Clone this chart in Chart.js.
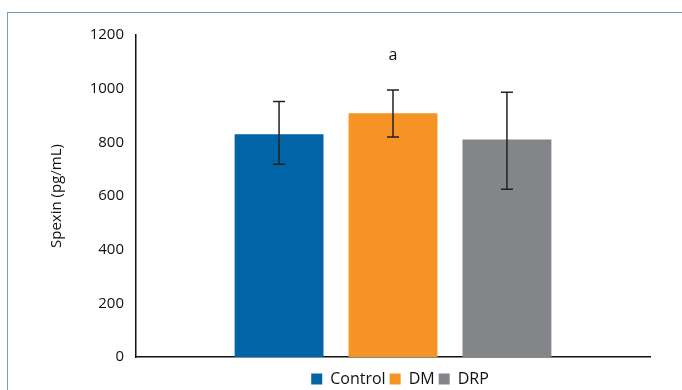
<!DOCTYPE html>
<html>
<head>
<meta charset="utf-8">
<script src="https://cdn.jsdelivr.net/npm/chart.js@4"></script>
<style>
  html, body { margin: 0; padding: 0; background: #fff; }
  #wrap { position: relative; width: 682px; height: 390px; }
  #frame { position: absolute; left: 7px; top: 12px; width: 690px; height: 400px; border: 1px solid #7b97d2; box-sizing: border-box; }
  canvas { position: absolute; left: 0; top: 0; }
</style>
</head>
<body>
<div id="wrap">
  <div id="frame"></div>
  <canvas id="myChart" width="682" height="390"></canvas>
</div>
<script>
const groups = ['Control', 'DM', 'DRP'];
const means = [830, 908, 811];
const errLow = [718, 820, 625];
const errHigh = [952, 995, 987];
const marks = ['', 'a', ''];
const markValue = 1125;
const colors = ['#0064a7', '#f69325', '#848589'];
const yTicks = [0, 200, 400, 600, 800, 1000, 1200];

const ctx = document.getElementById('myChart');
const font = "'Open Sans', 'Noto Sans', sans-serif";

const errorBars = {
    id: 'errorBars',
    afterLayout(chart) {
        // centre the legend under the plot area rather than the whole canvas
        chart.legend.left = chart.chartArea.left + 7;
        chart.legend.right = chart.chartArea.right + 7;
    },
    afterDatasetsDraw(chart) {
        const c = chart.ctx;
        const y = chart.scales.y;
        c.save();
        chart.data.datasets.forEach((ds, i) => {
            const bar = chart.getDatasetMeta(i).data[0];
            const x = bar.x;
            const top = y.getPixelForValue(errHigh[i]);
            const bottom = y.getPixelForValue(errLow[i]);
            c.strokeStyle = '#222';
            c.lineWidth = 1.5;
            c.beginPath();
            c.moveTo(x, top);
            c.lineTo(x, bottom);
            c.moveTo(x - 6, top);
            c.lineTo(x + 6, top);
            c.moveTo(x - 6, bottom);
            c.lineTo(x + 6, bottom);
            c.stroke();
            if (marks[i]) {
                c.fillStyle = '#111';
                c.font = '16px ' + font;
                c.textAlign = 'center';
                c.textBaseline = 'middle';
                c.fillText(marks[i], x, y.getPixelForValue(markValue));
            }
        });
        c.restore();
    }
};

new Chart(ctx, {
    type: 'bar',
    data: {
        labels: [''],
        datasets: groups.map((g, i) => ({
            label: g,
            data: [means[i]],
            backgroundColor: colors[i],
            borderWidth: 0,
            barPercentage: 0.78,
            categoryPercentage: 0.665
        }))
    },
    options: {
        responsive: false,
        animation: false,
        layout: {
            padding: { left: 44, right: 32, top: 35, bottom: -7 }
        },
        plugins: {
            legend: {
                position: 'bottom',
                labels: {
                    boxWidth: 11,
                    boxHeight: 11,
                    padding: 4,
                    color: '#111',
                    font: { family: font, size: 16 }
                }
            },
            tooltip: { enabled: false }
        },
        scales: {
            x: {
                afterFit: axis => { axis.height = 10; },
                grid: { display: false, drawTicks: false },
                border: { color: '#111', width: 1.5 },
                ticks: { display: false }
            },
            y: {
                min: 0,
                max: 1200,
                afterBuildTicks: axis => { axis.ticks = yTicks.map(v => ({ value: v })); },
                afterFit: axis => { axis.width = 92; },
                grid: { display: false, drawTicks: true, tickLength: 7, tickColor: '#111' },
                border: { color: '#111', width: 1.5 },
                ticks: {
                    color: '#111',
                    padding: 5,
                    font: { family: font, size: 15 },
                    callback: v => String(v)
                },
                title: {
                    display: true,
                    text: 'Spexin (pg/mL)',
                    color: '#111',
                    font: { family: font, size: 15 }
                }
            }
        }
    },
    plugins: [errorBars]
});
</script>
</body>
</html>
